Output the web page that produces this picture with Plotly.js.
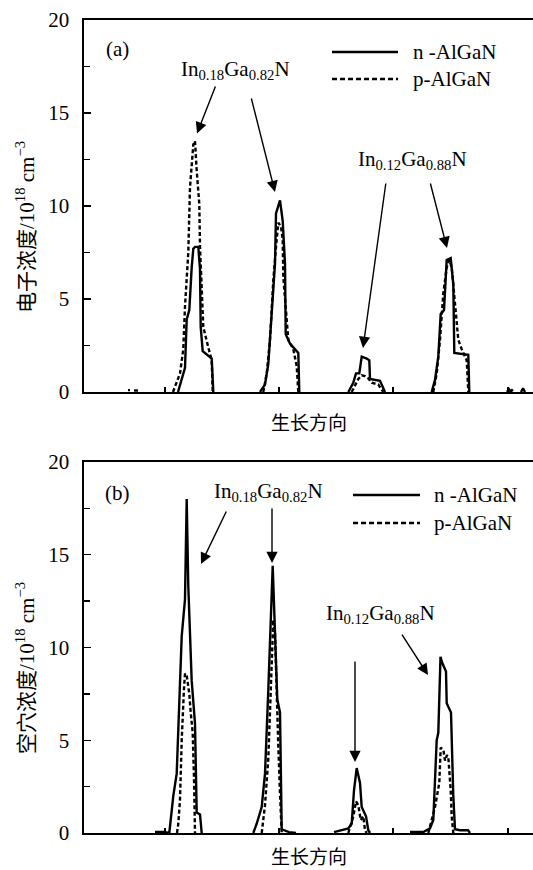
<!DOCTYPE html>
<html>
<head>
<meta charset="utf-8">
<script src="https://cdn.plot.ly/plotly-3.0.1.min.js"></script>
<style>
html,body{margin:0;padding:0;background:#fff;}
#chart{width:533px;height:870px;}
</style>
</head>
<body>
<div id="chart"></div>
<script>
// Position along growth direction (arbitrary units) and concentration (10^18 cm^-3)
// Panel (a): electron concentration
const posA_n = [44,46,null, 94,101,102.7,105.3,107.7,109.3,111,114.3,116,116.7,118.7,127.7,129.3, null, 176,181,184.3,187.7,191,192,196,198.7,201,201.7,206,214.3,215.3, null, 264.3,269.3,272,275.3,277.7,282.7,285.3,286,296,299.3,301, null, 347.7,351,354.3,356.7,360,362.7,366.7,369.3,370.3,384.3,385.3, null, 423,425,427, null, 437,439,441];
const elecA_n = [0.1,0.1,null, 0,1.3,3.9,4.4,6.7,7.7,7.8,7.8,6.6,3.5,2.2,1.8,0, null, 0,0.4,1.5,4.2,6.9,9.6,10.3,9.2,6.9,3.1,2.6,2.1,0, null, 0,0.5,1.0,1.0,1.9,1.8,1.7,0.7,0.6,0.2,0, null, 0,0.65,1.9,4.2,4.4,7.1,7.2,5.8,2.1,2.0,0, null, 0,0.15,0, null, 0,0.2,0];
const posA_p = [50,56,null, 89,96,99.3,101,104.3,106,109.3,111,112.7,115.3,116,117.7,119.3,124.3,127.7,128.7, null, 179.3,182.7,186,189.3,192,194.3,197,198.7,199.3,202,204.3,209.3,212.7,214.3, null, 267.7,272,274.3,277.7,281,284,287.7,294.3,297.7,299.3, null, 349.3,352.7,356,359.3,362.7,365.3,367.7,371,374.3,377.7,382.7,384.3, null, 426,428,430];
const elecA_p = [0.08,0.08,null, 0,1.0,2.3,4.6,7.5,11,13.3,13.5,11.9,10.1,7.8,5.3,3.5,2.4,1.7,0, null, 0,1.0,2.8,6.0,7.8,9.1,8.9,8.2,6.2,4.6,2.8,2.3,1.4,0, null, 0,0.5,0.7,0.9,0.85,0.75,0.5,0.4,0.1,0, null, 0,1.0,2.8,5.3,6.7,7.1,6.7,4.6,2.8,2.3,1.7,0, null, 0,0.1,0];

// Panel (b): hole concentration
const posB_n = [71,80,85.3,89.3,92.7,96.7,97.7,101,102.7,104.3,106,107.7,111,112.7,116,117.7, null, 169.3,172.7,177.7,181,184.3,186.7,188.7,191,193.3,196,197.7,205,212, null, 250,264.3,267.7,270,272.7,276,277.7,282,284.3,286, null, 326,339.3,346,349.3,352.7,354.3,356.5,358,362,362.7,367,369.3,371,376,384,386];
const holeB_n = [0.05,0.05,0,2.0,3.2,8.4,10.6,12.6,18.0,13.3,11.1,8.2,5.9,1.1,1.0,0, null, 0,0.5,1.4,3.2,7.7,11.3,14.4,10.8,7.2,6.5,0.2,0.05,0, null, 0.05,0.25,0.5,2.3,3.5,2.7,1.4,0.9,0.15,0, null, 0.05,0.05,0.25,0.7,5.0,5.4,9.5,9.2,8.7,7.0,6.5,2.0,0.2,0.15,0.15,0];
const posB_p = [93,94.3,96,97.7,100,101,102.7,105.3,106.7,108.7,110,111, null, 177.7,181,184.3,186,187.7,189.3,191,192.7,194.3,196,197.7, null, 264.3,269.3,272,274.3,276.7,279.3,281,282.7, null, 344.3,351,355.3,356.7,359.3,361,363,364.3,366.7,367.7,369.3];
const holeB_p = [0,0.5,1.8,5.0,7.8,8.6,8.5,7.5,6.5,5.4,3.0,0, null, 0,1.5,4.0,7.0,9.0,11.5,10.8,7.3,4.7,2.1,0, null, 0,0.9,1.7,1.5,0.7,0.9,0.15,0, null, 0,1.4,2.7,4.6,4.5,3.9,4.2,4.1,2.3,0.9,0];

const seriesNames = ['n-AlGaN', 'p-AlGaN'];
const yTickVals = [0,5,10,15,20];
const xTickVals = [81,195,309,424];
const labelX = '生长方向';
const labelYA = '电子浓度/10<sup>18</sup> cm<sup>−3</sup>';
const labelYB = '空穴浓度/10<sup>18</sup> cm<sup>−3</sup>';
const compHigh = 'In<sub>0.18</sub>Ga<sub>0.82</sub>N';
const compLow = 'In<sub>0.12</sub>Ga<sub>0.88</sub>N';

const SERIF = "'Liberation Serif', 'Noto Sans CJK SC', serif";
const CJK = "'Noto Sans CJK SC', sans-serif";
const DASH = '4px,2.5px';
const LW = 2.4;
const FS = 21;

function tr(x, y, name, dashed, xa, ya) {
  return {x: x, y: y, name: name, type: 'scatter', mode: 'lines', xaxis: xa, yaxis: ya,
    connectgaps: false, showlegend: false, hoverinfo: 'skip',
    line: {color: '#000', width: LW, dash: dashed ? DASH : 'solid', shape: 'linear'}};
}

const data = [
  tr(posA_n, elecA_n, seriesNames[0], false, 'x', 'y'),
  tr(posA_p, elecA_p, seriesNames[1], true, 'x', 'y'),
  tr(posB_n, holeB_n, seriesNames[0], false, 'x2', 'y2'),
  tr(posB_p, holeB_p, seriesNames[1], true, 'x2', 'y2')
];

function xax(anchor) {
  return {anchor: anchor, domain: [0,1], range: [0,449], showgrid: false, zeroline: false,
    showline: true, linecolor: '#000', linewidth: 1.6, mirror: true,
    ticks: 'inside', ticklen: 5, tickwidth: 1.3, tickcolor: '#000',
    tickmode: 'array', tickvals: xTickVals, showticklabels: false, fixedrange: true};
}
function yax(anchor, dom) {
  return {anchor: anchor, domain: dom, range: [0,20], showgrid: false, zeroline: false,
    showline: true, linecolor: '#000', linewidth: 1.6, mirror: false,
    ticks: 'inside', ticklen: 7, tickwidth: 1.3, tickcolor: '#000',
    tickmode: 'array', tickvals: yTickVals, ticklabelstandoff: 9,
    minor: {tickmode: 'linear', tick0: 0, dtick: 2.5, ticks: 'inside', ticklen: 6, tickwidth: 1.3, tickcolor: '#000', showgrid: false},
    tickfont: {family: SERIF, size: FS, color: '#000'}, fixedrange: true};
}

const anns = [];
const shapes = [];
function txt(text, x, y, xr, yr, opts) {
  anns.push(Object.assign({text: text, x: x, y: y, xref: xr, yref: yr, showarrow: false,
    xanchor: 'center', yanchor: 'middle', font: {family: SERIF, size: FS, color: '#000'}}, opts || {}));
}
function arrow(xr, yr, tailX, tailY, tipX, tipY) {
  anns.push({text: '', x: tipX, y: tipY, ax: tailX, ay: tailY, xref: xr, yref: yr, axref: xr, ayref: yr,
    showarrow: true, arrowhead: 2, arrowsize: 1.6, arrowwidth: 1.4, arrowcolor: '#000', standoff: 0});
}
function legendEntry(xr, yr, x0, x1, y, tx, label, dashed) {
  shapes.push({type: 'line', xref: xr, yref: yr, x0: x0, x1: x1, y0: y, y1: y,
    line: {color: '#000', width: LW, dash: dashed ? '5px,3px' : 'solid'}});
  txt(label, tx, y, xr, yr, {xanchor: 'left'});
}

// Panel (a)
txt('(a)', 33, 18.45, 'x', 'y');
txt(compHigh, 151, 17.3, 'x', 'y');
txt(compLow, 328, 12.45, 'x', 'y');
legendEntry('x', 'y', 248, 314, 18.28, 327, 'n -AlGaN', false);
legendEntry('x', 'y', 248, 314, 16.83, 327, 'p-AlGaN', true);
arrow('x', 'y', 132, 16.5, 113, 13.9);
arrow('x', 'y', 167, 15.86, 191, 10.75);
arrow('x', 'y', 302, 11.29, 279, 2.37);
arrow('x', 'y', 346, 11.29, 363, 7.74);
txt(labelX, 0.5, (833-421)/813, 'paper', 'paper', {font: {family: CJK, size: 19, color: '#000'}});
txt(labelYA, (25-84)/449, (833-227)/813, 'paper', 'paper', {textangle: -90});

// Panel (b)
txt('(b)', 33, 18.35, 'x2', 'y2');
txt(compHigh, 184, 18.4, 'x2', 'y2');
txt(compLow, 296, 11.8, 'x2', 'y2');
legendEntry('x2', 'y2', 269, 336, 18.22, 348, 'n -AlGaN', false);
legendEntry('x2', 'y2', 269, 336, 16.71, 348, 'p-AlGaN', true);
arrow('x2', 'y2', 143, 17.41, 117, 14.5);
arrow('x2', 'y2', 188, 17.57, 188, 14.56);
arrow('x2', 'y2', 271, 9.33, 271, 3.83);
arrow('x2', 'y2', 317, 10.78, 344, 8.52);
txt(labelX, 0.5, (833-855)/813, 'paper', 'paper', {font: {family: CJK, size: 19, color: '#000'}});
txt(labelYB, (25-84)/449, (833-668)/813, 'paper', 'paper', {textangle: -90});

const layout = {
  width: 533, height: 870,
  margin: {l: 84, r: 0, t: 20, b: 37, pad: 0},
  paper_bgcolor: '#fff', plot_bgcolor: '#fff',
  showlegend: false,
  font: {family: SERIF, color: '#000'},
  xaxis: xax('y'),
  yaxis: yax('x', [(833-392)/813, 1]),
  xaxis2: xax('y2'),
  yaxis2: yax('x2', [0, (833-462)/813]),
  annotations: anns,
  shapes: shapes
};

Plotly.newPlot('chart', data, layout, {staticPlot: true, displayModeBar: false});
</script>
</body>
</html>
